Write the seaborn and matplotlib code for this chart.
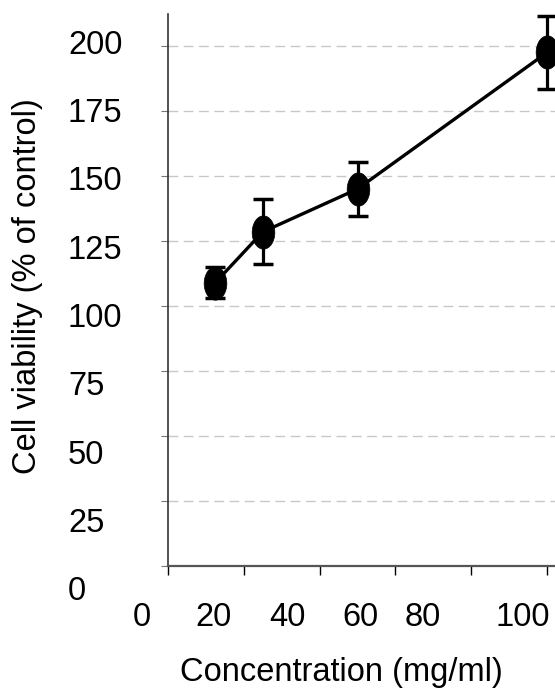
import numpy as np
import pandas as pd
import matplotlib
matplotlib.use("Agg")
import matplotlib.pyplot as plt
from matplotlib.path import Path
from matplotlib.transforms import Affine2D
import seaborn as sns

# ---- data ----
concentration = [12.5, 25, 50, 100]
viability = [109.0, 128.5, 145.0, 197.5]
viability_err = [6.0, 12.5, 10.5, 14.0]
x_tick_values = [0, 20, 40, 60, 80, 100]
x_tick_labels = ["0", "20", "40", "60", "80", "100"]
y_tick_values = [0, 25, 50, 75, 100, 125, 150, 175, 200]
y_tick_labels = ["0", "25", "50", "75", "100", "125", "150", "175", "200"]

# ---- layout constants (label placement as in the original) ----
x_label_pos = [-6.9, 12.0, 31.4, 50.7, 67.3, 93.7]  # data x for label centres

sns.set_theme(style="white")
plt.rcParams['font.family'] = ['Liberation Sans', 'DejaVu Sans']
plt.rcParams['text.color'] = 'black'
FS = 23.5

df = pd.DataFrame({"conc": concentration, "via": viability, "err": viability_err})

fig = plt.figure(figsize=(5.55, 6.92), dpi=100)
ax = fig.add_axes([168/555, (692-566)/692, (555-168)/555, (566-14)/692])

ellipse = Path.unit_circle().transformed(Affine2D().scale(0.68, 1.0))

ax.errorbar(df["conc"], df["via"], yerr=df["err"], fmt="none", ecolor="black",
            elinewidth=2.3, capsize=7, capthick=2.5, zorder=3, clip_on=False)
sns.lineplot(data=df, x="conc", y="via", ax=ax, color="black", linewidth=2.4,
             marker=ellipse, markersize=24, markeredgecolor="black",
             markeredgewidth=0.5, markerfacecolor="black", zorder=4, clip_on=False)

ax.set_xlim(0, 102.1)
ax.set_ylim(0, 212.3)

# grid
for v in y_tick_values[1:]:
    ax.axhline(v, color="#c8c8c8", lw=1.0, dashes=(7, 4), zorder=1)

# spines
for s in ["top", "right"]:
    ax.spines[s].set_visible(False)
ax.spines["left"].set_color("#333333")
ax.spines["left"].set_linewidth(1.2)
ax.spines["bottom"].set_color("#555555")
ax.spines["bottom"].set_linewidth(1.6)

ax.set_xticks(x_tick_values)
ax.set_xticklabels([])
ax.set_yticks(y_tick_values)
ax.set_yticklabels([])
ax.tick_params(axis="x", direction="out", length=6.5, width=1.0, color="black", bottom=True)
ax.tick_params(axis="y", direction="out", length=5, width=0.8, color="#777777", left=True)

# x tick labels
x_lab_y_fig = 1 - 618/692
for lbl, xp in zip(x_tick_labels, x_label_pos):
    xd = ax.transData.transform((xp, 0))[0]
    xf = fig.transFigure.inverted().transform((xd, 0))[0]
    fig.text(xf, x_lab_y_fig, lbl, ha="center", va="center", fontsize=FS, color="black")

# y tick labels (left aligned, spaced as in the original)
for lbl, v in zip(y_tick_labels, y_tick_values):
    ypx = 592 - v * (592 - 45) / 200
    fig.text(68/555, 1 - ypx/692, lbl, ha="left", va="center", fontsize=FS, color="black")

ax.set_xlabel("")
ax.set_ylabel("")
fig.text(341/555, 1 - 673/692, "Concentration (mg/ml)", ha="center", va="center",
         fontsize=FS, color="black")
fig.text(28/555, 1 - 286/692, "Cell viability (% of control)", ha="center", va="center",
         rotation=90, fontsize=FS, color="black")

fig.savefig("out.png", dpi=100)
